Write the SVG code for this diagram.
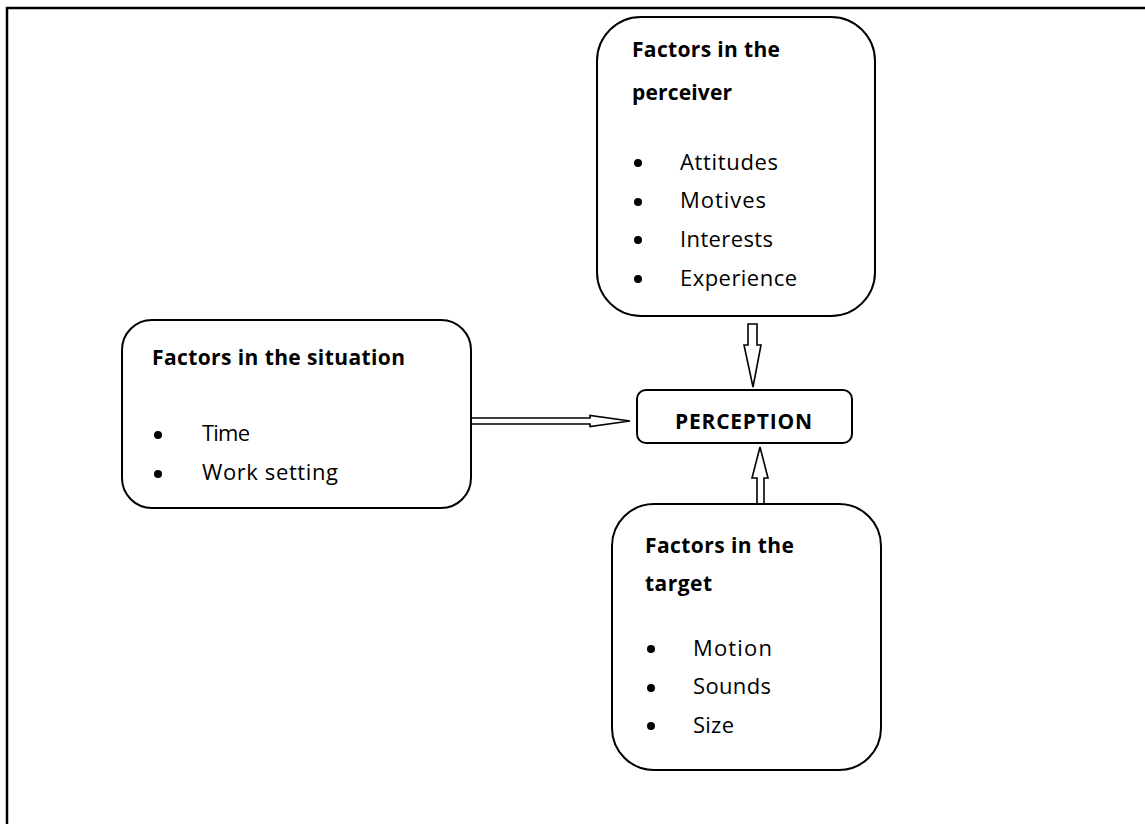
<svg xmlns="http://www.w3.org/2000/svg" width="1145" height="824" viewBox="0 0 1145 824">
<style>
.box{fill:#fff;stroke:#000;stroke-width:2}
.arr{fill:#fff;stroke:#000;stroke-width:1.6;stroke-linejoin:miter}
text{font-family:"Open Sans","Liberation Sans",sans-serif;font-size:22px;fill:#000}
.b{font-weight:bold;font-size:21px}
.dot{fill:#000}
</style>
<rect width="1145" height="824" fill="#fff"/>
<path d="M7,824 V8 H1145" fill="none" stroke="#000" stroke-width="2.5"/>
<g id="connectors">
<polygon class="arr" points="748,324 757,324 757,345 761,345 753,387 744,345 748,345"/>
<polygon class="arr" points="471,418 590,418 590,415.5 630,421 590,426.5 590,424 471,424"/>
<polygon class="arr" points="757,504 764,504 764,478 768,478 760,447 752,478 757,478"/>
</g>
<g id="perceiver">
<rect class="box" x="597" y="17" width="278" height="299" rx="44" ry="44"/>
<text class="b" x="632" y="57" textLength="148">Factors in the</text>
<text class="b" x="632" y="100" textLength="100">perceiver</text>
<circle class="dot" cx="638" cy="163" r="4"/>
<circle class="dot" cx="638" cy="202" r="4"/>
<circle class="dot" cx="638" cy="240" r="4"/>
<circle class="dot" cx="638" cy="279" r="4"/>
<text x="680" y="170" textLength="98">Attitudes</text>
<text x="680" y="208" textLength="86">Motives</text>
<text x="680" y="247" textLength="93">Interests</text>
<text x="680" y="286" textLength="117">Experience</text>
</g>
<g id="situation">
<rect class="box" x="122" y="320" width="349" height="188" rx="30" ry="30"/>
<text class="b" x="152" y="365" textLength="253">Factors in the situation</text>
<circle class="dot" cx="158" cy="435" r="4"/>
<circle class="dot" cx="158" cy="474" r="4"/>
<text x="202" y="441" textLength="48">Time</text>
<text x="202" y="480" textLength="136">Work setting</text>
</g>
<g id="perception">
<rect class="box" x="637" y="390" width="215" height="53" rx="9" ry="9"/>
<text class="b" x="675" y="429" textLength="137">PERCEPTION</text>
</g>
<g id="target">
<rect class="box" x="612" y="504" width="269" height="266" rx="42" ry="42"/>
<text class="b" x="645" y="553" textLength="149">Factors in the</text>
<text class="b" x="645" y="591" textLength="67">target</text>
<circle class="dot" cx="651" cy="649" r="4"/>
<circle class="dot" cx="651" cy="688" r="4"/>
<circle class="dot" cx="651" cy="726" r="4"/>
<text x="693" y="656" textLength="79">Motion</text>
<text x="693" y="694" textLength="78">Sounds</text>
<text x="693" y="733" textLength="41">Size</text>
</g>
</svg>
